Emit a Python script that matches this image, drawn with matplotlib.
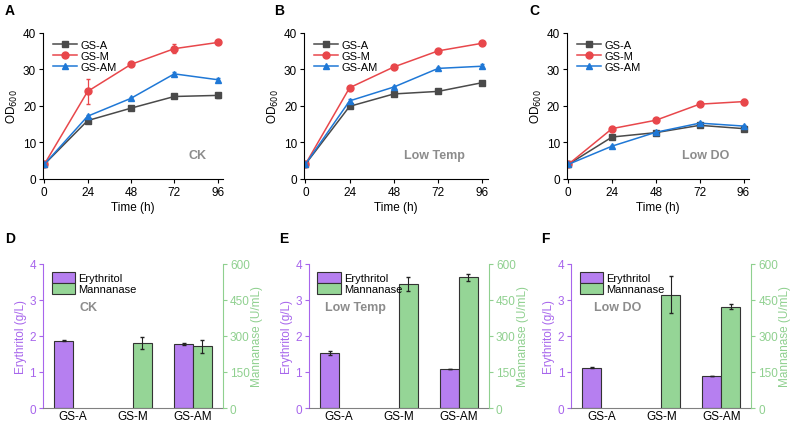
import matplotlib
matplotlib.use("Agg")
import matplotlib.pyplot as plt
from matplotlib.lines import Line2D
import numpy as np

plt.rcParams['font.family'] = ['Liberation Sans', 'DejaVu Sans']

time_h = [0, 24, 48, 72, 96]
strains = ["GS-A", "GS-M", "GS-AM"]
conditions = ["CK", "Low Temp", "Low DO"]
panel_top = ["A", "B", "C"]
panel_bot = ["D", "E", "F"]

# OD600 growth curves: condition -> strain -> values
od_ck_a = [4.0, 16.0, 19.4, 22.6, 22.9]
od_ck_m = [4.0, 24.0, 31.4, 35.7, 37.4]
od_ck_am = [4.0, 17.2, 22.1, 28.8, 27.2]
od_ck_m_err = [0.3, 3.4, 0.5, 1.2, 0.4]
od_ck_a_err = [0.3, 0.4, 0.3, 0.3, 0.6]
od_ck_am_err = [0.3, 0.4, 0.4, 0.4, 0.4]

od_lt_a = [4.0, 19.9, 23.3, 24.0, 26.4]
od_lt_m = [4.0, 25.0, 30.7, 35.1, 37.2]
od_lt_am = [4.0, 21.4, 25.2, 30.3, 30.9]
od_lt_a_err = [0.3, 0.4, 0.6, 0.3, 0.3]
od_lt_m_err = [0.3, 0.3, 0.3, 0.3, 0.3]
od_lt_am_err = [0.3, 0.4, 0.3, 0.3, 0.5]

od_do_a = [4.0, 11.5, 12.7, 14.7, 13.8]
od_do_m = [4.0, 13.8, 16.1, 20.5, 21.2]
od_do_am = [4.0, 9.0, 12.8, 15.3, 14.5]
od_do_a_err = [0.3, 0.3, 0.3, 0.3, 0.3]
od_do_m_err = [0.3, 0.3, 0.3, 0.3, 0.8]
od_do_am_err = [0.3, 0.3, 0.4, 0.3, 0.3]

od_vals = [[od_ck_a, od_ck_m, od_ck_am], [od_lt_a, od_lt_m, od_lt_am], [od_do_a, od_do_m, od_do_am]]
od_errs = [[od_ck_a_err, od_ck_m_err, od_ck_am_err], [od_lt_a_err, od_lt_m_err, od_lt_am_err],
           [od_do_a_err, od_do_m_err, od_do_am_err]]

# Erythritol (g/L) and Mannanase (U/mL) per strain
ery_ck = [1.87, 0.0, 1.77]
ery_ck_err = [0.02, 0.0, 0.03]
man_ck = [0.0, 270, 257]
man_ck_err = [0, 24, 28]

ery_lt = [1.52, 0.0, 1.08]
ery_lt_err = [0.05, 0.0, 0.01]
man_lt = [0.0, 516, 543]
man_lt_err = [0, 29, 13]

ery_do = [1.12, 0.0, 0.88]
ery_do_err = [0.02, 0.0, 0.005]
man_do = [0.0, 471, 422]
man_do_err = [0, 77, 10]

ery_vals = [ery_ck, ery_lt, ery_do]
ery_errs = [ery_ck_err, ery_lt_err, ery_do_err]
man_vals = [man_ck, man_lt, man_do]
man_errs = [man_ck_err, man_lt_err, man_do_err]

line_colors = ["#4a4a4a", "#e8474b", "#1f78d6"]
markers = ["s", "o", "^"]
purple = "#b67ff0"
green = "#95d596"
purple_ax = "#a765ec"
green_ax = "#8fd08f"
gray_txt = "#8c8c8c"

fig = plt.figure(figsize=(7.94, 4.27), dpi=100)

top_lefts = [0.0542, 0.3829, 0.7141]
bot_lefts = [0.0542, 0.3892, 0.7195]
top_w = [0.2267, 0.2317, 0.2292]
cond_pos_top = [(0.856, 0.165), (0.71, 0.165), (0.76, 0.165)]
fs = 8.5

for i in range(3):
    ax = fig.add_axes([top_lefts[i], 0.5785, top_w[i], 0.3419])
    handles = []
    for j in range(3):
        ax.errorbar(time_h, od_vals[i][j], yerr=od_errs[i][j], color=line_colors[j], marker=markers[j],
                    markersize=5, linewidth=1.1, elinewidth=0.9, capsize=1.5)
        handles.append(Line2D([], [], color=line_colors[j], marker=markers[j], markersize=5,
                              linewidth=1.1, label=strains[j]))
    ax.set_xlim(-0.7, 99)
    ax.set_ylim(0, 40)
    ax.set_xticks(time_h)
    ax.set_yticks([0, 10, 20, 30, 40])
    for s in ["top", "right"]:
        ax.spines[s].set_visible(False)
    ax.tick_params(labelsize=fs, length=3, width=0.8, direction="out", pad=2)
    ax.set_xlabel("Time (h)", fontsize=fs, labelpad=2)
    ax.set_ylabel("OD$_{600}$", fontsize=fs, labelpad=2)
    ax.legend(handles=handles, loc="upper left", bbox_to_anchor=(0.02, 1.0), fontsize=8, frameon=False,
              handlelength=2.1, handletextpad=0.35, labelspacing=0.12, borderaxespad=0.2)
    ax.text(cond_pos_top[i][0], cond_pos_top[i][1], conditions[i], transform=ax.transAxes,
            ha="center", va="center", fontsize=9, fontweight="bold", color=gray_txt)
    fig.text(top_lefts[i] - 0.048 + (0.01 if i == 1 else 0), 0.975, panel_top[i], fontsize=10,
             fontweight="bold", va="center", ha="left")

x = np.arange(len(strains))
bw = 0.315
ekw = dict(elinewidth=0.8, capsize=1.5, ecolor="#222222")
for i in range(3):
    ax = fig.add_axes([bot_lefts[i], 0.042, 0.2267, 0.3380])
    ax2 = ax.twinx()
    ev = np.array(ery_vals[i]); ee = np.array(ery_errs[i])
    mv = np.array(man_vals[i]); me = np.array(man_errs[i])
    ke = ev > 0
    km = mv > 0
    ax.bar(x[ke] - bw / 2, ev[ke], bw, yerr=ee[ke], color=purple, edgecolor="#333333",
           linewidth=0.8, error_kw=ekw)
    ax2.bar(x[km] + bw / 2, mv[km], bw, yerr=me[km], color=green, edgecolor="#333333",
            linewidth=0.8, error_kw=ekw)
    ax.set_xlim(-0.5, 2.5)
    ax.set_ylim(0, 4)
    ax2.set_ylim(0, 600)
    ax.set_yticks([0, 1, 2, 3, 4])
    ax2.set_yticks([0, 150, 300, 450, 600])
    ax.set_xticks(x)
    ax.set_xticklabels(strains)
    for a in (ax, ax2):
        a.spines["top"].set_visible(False)
    ax.spines["right"].set_visible(False)
    ax2.spines["left"].set_visible(False)
    ax.spines["left"].set_color(purple_ax)
    ax2.spines["right"].set_color(green_ax)
    ax.spines["bottom"].set_color("#808080")
    ax2.spines["bottom"].set_visible(False)
    ax.tick_params(axis="y", colors=purple_ax, labelsize=fs, length=3, pad=2)
    ax2.tick_params(axis="y", colors=green_ax, labelsize=fs, length=3, pad=2)
    ax.tick_params(axis="x", length=0, labelsize=fs, pad=1.5)
    ax.set_ylabel("Erythritol (g/L)", color=purple_ax, fontsize=fs, labelpad=2)
    ax2.set_ylabel("Mannanase (U/mL)", color=green_ax, fontsize=fs, labelpad=1)
    leg_h = [plt.Rectangle((0, 0), 1, 1, facecolor=purple, edgecolor="#333333", linewidth=0.8),
             plt.Rectangle((0, 0), 1, 1, facecolor=green, edgecolor="#333333", linewidth=0.8)]
    ax2.legend(leg_h, ["Erythritol", "Mannanase"], loc="upper left", bbox_to_anchor=(0.01, 0.99),
               fontsize=8, frameon=False, handlelength=2.1, handleheight=1.15, handletextpad=0.3,
               labelspacing=0.0, borderaxespad=0.2)
    ax.text(0.25 if i == 0 else 0.26, 0.70, conditions[i], transform=ax.transAxes, ha="center",
            va="center", fontsize=9, fontweight="bold", color=gray_txt)
    fig.text(bot_lefts[i] - 0.048 + (0.01 if i > 0 else 0), 0.44, panel_bot[i], fontsize=10,
             fontweight="bold", va="center", ha="left")

fig.savefig("out.png", dpi=100)
